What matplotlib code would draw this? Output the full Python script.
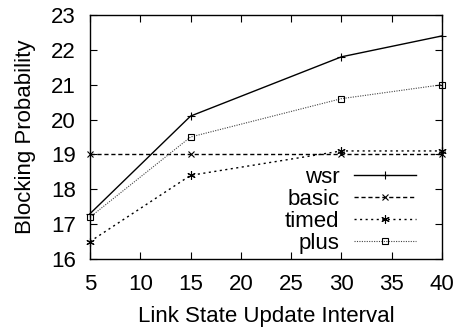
import matplotlib
matplotlib.use("Agg")
import matplotlib.pyplot as plt

plt.rcParams['font.family'] = ['Liberation Sans', 'DejaVu Sans']

x = [5, 15, 30, 40]
wsr = [17.3, 20.1, 21.8, 22.4]
basic = [19.0, 19.0, 19.0, 19.0]
timed = [16.5, 18.4, 19.1, 19.1]
plus = [17.2, 19.5, 20.6, 21.0]
xticks = [5, 10, 15, 20, 25, 30, 35, 40]
yticks = [16, 17, 18, 19, 20, 21, 22, 23]

fig = plt.figure(figsize=(4.61, 3.32), dpi=100)
ax = fig.add_axes([90/461, 1-259/332, (442-90)/461, (259-15)/332])

ax.plot(x, wsr, color='black', lw=1.0, ls='-', marker='+', ms=6, mew=0.8, label='wsr', clip_on=False)
ax.plot(x, basic, color='black', lw=1.0, ls=(0, (3, 2)), marker='x', ms=5, mew=0.8, label='basic', clip_on=False)
ax.plot(x, timed, color='black', lw=1.0, ls=(0, (1.5, 2.5)), marker=(6, 2, 0), ms=6, mew=0.8, label='timed', clip_on=False)
ax.plot(x, plus, color='#444444', lw=0.8, ls=(0, (1, 1.2)), marker='s', ms=5, mew=0.8,
        mfc='none', mec='black', label='plus', clip_on=False)

ax.set_xlim(5, 40)
ax.set_ylim(16, 23)
ax.set_xticks(xticks)
ax.set_yticks(yticks)
ax.tick_params(direction='in', length=5, width=0.8, labelsize=16, top=True, right=True)
ax.tick_params(axis='x', pad=11)
ax.tick_params(axis='y', pad=10)
for s in ax.spines.values():
    s.set_linewidth(1.0)
ax.set_xlabel('Link State Update Interval', fontsize=16, labelpad=8)
ax.set_ylabel('Blocking Probability', fontsize=16, labelpad=11)

leg = ax.legend(loc='lower right', bbox_to_anchor=(0.925, 0.021), frameon=False, markerfirst=False,
                fontsize=16, handlelength=2.75, handletextpad=0.68, labelspacing=0.05,
                borderaxespad=0.0, borderpad=0.0, alignment='right')
for t in leg.get_texts():
    t.set_ha('right')

fig.savefig('out.png', dpi=100)
